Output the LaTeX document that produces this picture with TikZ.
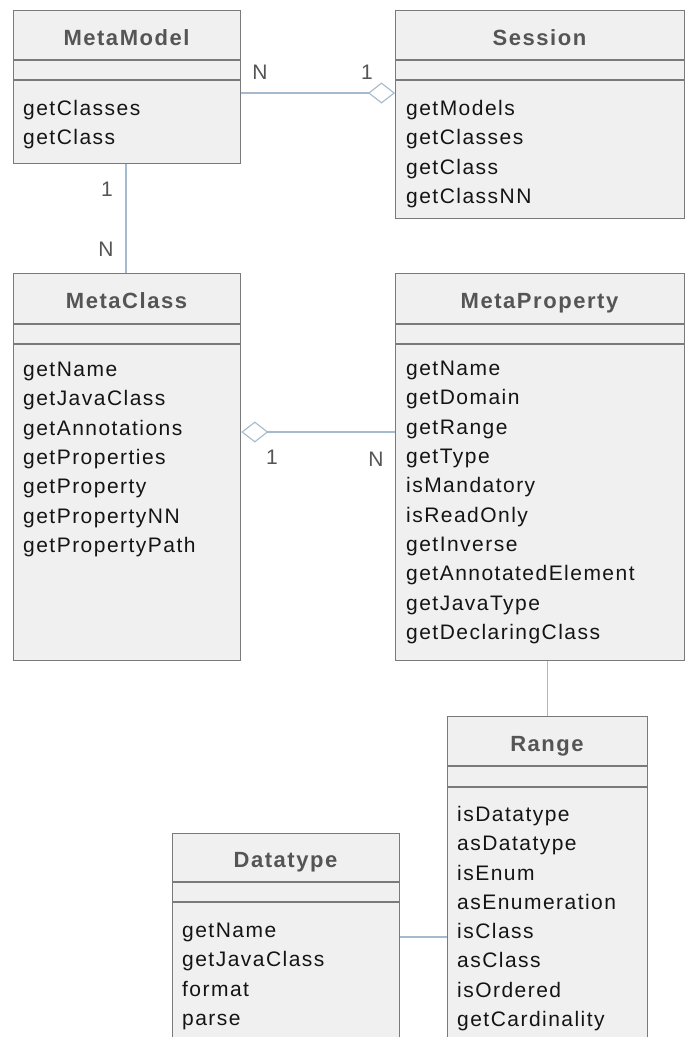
\documentclass[tikz,border=0pt]{standalone}
\usepackage{fontspec}
\setmainfont{Liberation Sans}[LetterSpace=7]
\usepackage{tikz}
\usetikzlibrary{arrows.meta,positioning}

\definecolor{boxline}{RGB}{122,122,122}
\definecolor{boxfill}{RGB}{240,240,240}
\definecolor{assocline}{RGB}{165,186,204}
\definecolor{titlegray}{RGB}{85,85,85}
\definecolor{itemgray}{RGB}{20,20,20}

\tikzset{
  classpart/.style={draw=boxline, fill=boxfill, line width=1.3pt, inner sep=0pt, anchor=north west},
  partline/.style={draw=boxline, line width=1.3pt},
  classname/.style={font=\fontsize{22}{26}\selectfont\bfseries, text=titlegray, inner sep=0pt, anchor=base},
  ops/.style={font=\fontsize{21}{29.3}\selectfont, text=itemgray, align=left, inner sep=0pt, anchor=north west},
  mult/.style={font=\fontsize{21}{25}\selectfont, text=titlegray, inner sep=0pt},
  assoc/.style={draw=assocline, line width=1.1pt},
  aggtip/.style={-{Diamond[open, length=27pt, width=21pt, line width=1.1pt]}}
}

\begin{document}
\begin{tikzpicture}[x=1pt, y=-1pt]
         \useasboundingbox (0,0) rectangle (685,1037);
         \fill[white] (0,0) rectangle (685,1037);
         \clip (0,0) rectangle (685,1037);

         % MetaModel
         \node[classpart, minimum width=227pt, minimum height=153pt] (metamodel) at (13,10) {};
         \draw[partline] (metamodel.west |- 0,60) -- (metamodel.east |- 0,60);
         \draw[partline] (metamodel.west |- 0,80) -- (metamodel.east |- 0,80);
         \node[classname] (metamodel-name) at (126.5,45) {MetaModel};
         \node[ops] (metamodel-ops) at (23,100) {getClasses\\getClass};

         % Session
         \node[classpart, minimum width=289pt, minimum height=208pt] (session) at (395,10) {};
         \draw[partline] (session.west |- 0,60) -- (session.east |- 0,60);
         \draw[partline] (session.west |- 0,80) -- (session.east |- 0,80);
         \node[classname] (session-name) at (539.5,45) {Session};
         \node[ops] (session-ops) at (406,100) {getModels\\getClasses\\getClass\\getClassNN};

         % MetaClass
         \node[classpart, minimum width=227pt, minimum height=387pt] (metaclass) at (13,273) {};
         \draw[partline] (metaclass.west |- 0,324) -- (metaclass.east |- 0,324);
         \draw[partline] (metaclass.west |- 0,344) -- (metaclass.east |- 0,344);
         \node[classname] (metaclass-name) at (126.5,308) {MetaClass};
         \node[ops] (metaclass-ops) at (23,362) {getName\\getJavaClass\\getAnnotations\\getProperties\\getProperty\\getPropertyNN\\getPropertyPath};

         % MetaProperty
         \node[classpart, minimum width=289pt, minimum height=387pt] (metaproperty) at (395,273) {};
         \draw[partline] (metaproperty.west |- 0,324) -- (metaproperty.east |- 0,324);
         \draw[partline] (metaproperty.west |- 0,344) -- (metaproperty.east |- 0,344);
         \node[classname] (metaproperty-name) at (539.5,308) {MetaProperty};
         \node[ops] (metaproperty-ops) at (406,361) {getName\\getDomain\\getRange\\getType\\isMandatory\\isReadOnly\\getInverse\\getAnnotatedElement\\getJavaType\\getDeclaringClass};

         % Range
         \node[classpart, minimum width=200pt, minimum height=340pt] (range) at (447,716) {};
         \draw[partline] (range.west |- 0,766) -- (range.east |- 0,766);
         \draw[partline] (range.west |- 0,787) -- (range.east |- 0,787);
         \node[classname] (range-name) at (547,751.5) {Range};
         \node[ops] (range-ops) at (457,806) {isDatatype\\asDatatype\\isEnum\\asEnumeration\\isClass\\asClass\\isOrdered\\getCardinality};

         % Datatype
         \node[classpart, minimum width=227pt, minimum height=230pt] (datatype) at (172,833) {};
         \draw[partline] (datatype.west |- 0,882) -- (datatype.east |- 0,882);
         \draw[partline] (datatype.west |- 0,902) -- (datatype.east |- 0,902);
         \node[classname] (datatype-name) at (285.5,867) {Datatype};
         \node[ops] (datatype-ops) at (182,923) {getName\\getJavaClass\\format\\parse};

         % associations
         \draw[assoc, aggtip] (metamodel.east |- 0,93) -- (session.west |- 0,93);
         \node[mult] (mm-n) at (260,72) {N};
         \node[mult] (se-1) at (367,72) {1};

         \draw[assoc] (metamodel.south -| 126,0) -- (metaclass.north -| 126,0);
         \node[mult] (mm-1) at (107,189) {1};
         \node[mult] (mc-n) at (106,249) {N};

         \draw[assoc, aggtip] (metaproperty.west |- 0,432) -- (metaclass.east |- 0,432);
         \node[mult] (mc-1) at (272,457) {1};
         \node[mult] (mp-n) at (376,459) {N};

         \draw[assoc] (metaproperty.south -| range.north) -- (range.north);
         \draw[assoc] (datatype.east |- 0,937) -- (range.west |- 0,937);
\end{tikzpicture}
\end{document}
